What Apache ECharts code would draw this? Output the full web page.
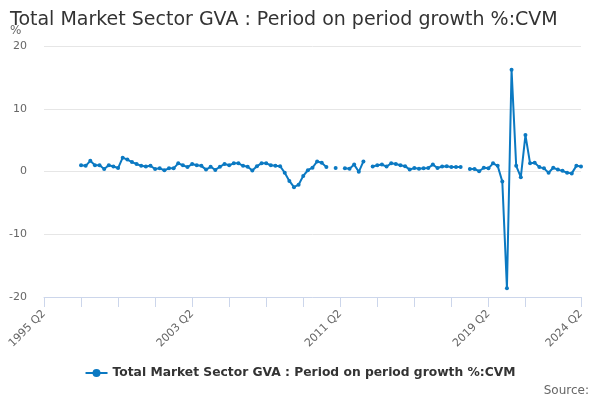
<!DOCTYPE html>
<html>
<head>
<meta charset="utf-8">
<script src="https://cdn.jsdelivr.net/npm/echarts@6/dist/echarts.min.js"></script>
<style>html,body{margin:0;padding:0;background:#fff}#c{width:600px;height:400px}</style>
</head>
<body>
<div id="c"></div>
<script>
// Quarterly categories 1995 Q2 .. 2024 Q2
var categories = [];
(function(){ var y = 1995, q = 2; while (y < 2024 || (y === 2024 && q <= 2)) { categories.push(y + ' Q' + q); q++; if (q > 4) { q = 1; y++; } } })();

var seriesName = 'Total Market Sector GVA : Period on period growth %:CVM';
var growth = [
  null, null, null, null, null, null, null, null,
  1.0, 0.9, 1.7, 1.0, 1.0, 0.4, 1.0, 0.8, 0.55, 2.2,
  1.9, 1.5, 1.2, 0.9, 0.8, 0.9, 0.4, 0.5, 0.2, 0.5,
  0.5, 1.3, 1.0, 0.7, 1.2, 1.0, 0.9, 0.3, 0.75, 0.25,
  0.75, 1.2, 1.0, 1.3, 1.3, 0.9, 0.75, 0.15, 0.85, 1.3,
  1.3, 1.0, 0.9, 0.85, -0.2, -1.5, -2.5, -2.1, -0.7, 0.2,
  0.6, 1.6, 1.4, 0.7, null, 0.55, null, 0.5, 0.45, 1.1,
  -0.05, 1.6, null, 0.8, 1.0, 1.1, 0.8, 1.3, 1.2, 1.0,
  0.85, 0.3, 0.55, 0.45, 0.5, 0.55, 1.1, 0.55, 0.8, 0.85,
  0.7, 0.7, 0.7, null, 0.4, 0.4, 0.05, 0.6, 0.5, 1.3,
  0.9, -1.6, -18.6, 16.2, 0.9, -0.9, 5.8, 1.3, 1.4, 0.7,
  0.5, -0.2, 0.6, 0.3, 0.1, -0.2, -0.3, 0.9, 0.8
];
var xLabelIdx = [0, 32, 64, 96, 116];
var xTickIdx = [0, 8, 16, 24, 32, 40, 48, 56, 64, 72, 80, 88, 96, 104, 116];
var yTicks = [-20, -10, 0, 10, 20];

var chart = echarts.init(document.getElementById('c'), null, {renderer: 'canvas'});
var font = 'DejaVu Sans';
chart.setOption({
  animation: false,
  backgroundColor: '#ffffff',
  title: {
    text: 'Total Market Sector GVA : Period on period growth %:CVM',
    left: 5, top: 6,
    textStyle: {fontFamily: font, fontSize: 19, fontWeight: 'normal', color: '#333333'}
  },
  graphic: [{
    type: 'text', right: 11, bottom: 3,
    style: {text: 'Source:', fontFamily: font, fontSize: 12, fill: '#666666'}
  }, {
    type: 'text', left: 10, top: 25,
    style: {text: '%', fontFamily: font, fontSize: 12, fill: '#666666'}
  }],
  legend: {
    bottom: 16, left: 'center',
    itemWidth: 22, itemHeight: 10,
    textStyle: {fontFamily: font, fontSize: 12.3, fontWeight: 'bold', color: '#333333'},
    data: [seriesName]
  },
  grid: {left: 44, right: 19, top: 46, bottom: 103, containLabel: false},
  xAxis: {
    type: 'category',
    data: categories,
    boundaryGap: false,
    axisLine: {onZero: false, lineStyle: {color: '#ccd6eb', width: 1}},
    axisTick: {show: true, length: 10, lineStyle: {color: '#ccd6eb'},
      interval: function(i){ return xTickIdx.indexOf(i) >= 0; }},
    axisLabel: {
      rotate: 45, margin: 15, color: '#666666', fontFamily: font, fontSize: 11,
      interval: function(i){ return xLabelIdx.indexOf(i) >= 0; }
    },
    splitLine: {show: false}
  },
  yAxis: {
    type: 'value',
    min: yTicks[0], max: yTicks[yTicks.length - 1], interval: 10,
    axisLine: {show: false},
    axisTick: {show: false},
    axisLabel: {margin: 17, color: '#666666', fontFamily: font, fontSize: 11},
    splitLine: {lineStyle: {color: '#e6e6e6', width: 1}}
  },
  series: [{
    name: seriesName,
    type: 'line',
    data: growth,
    connectNulls: false,
    symbol: 'circle', symbolSize: 4, showSymbol: true, showAllSymbol: true,
    lineStyle: {color: '#0b79c2', width: 2},
    itemStyle: {color: '#0b79c2'}
  }]
});
</script>
</body>
</html>
